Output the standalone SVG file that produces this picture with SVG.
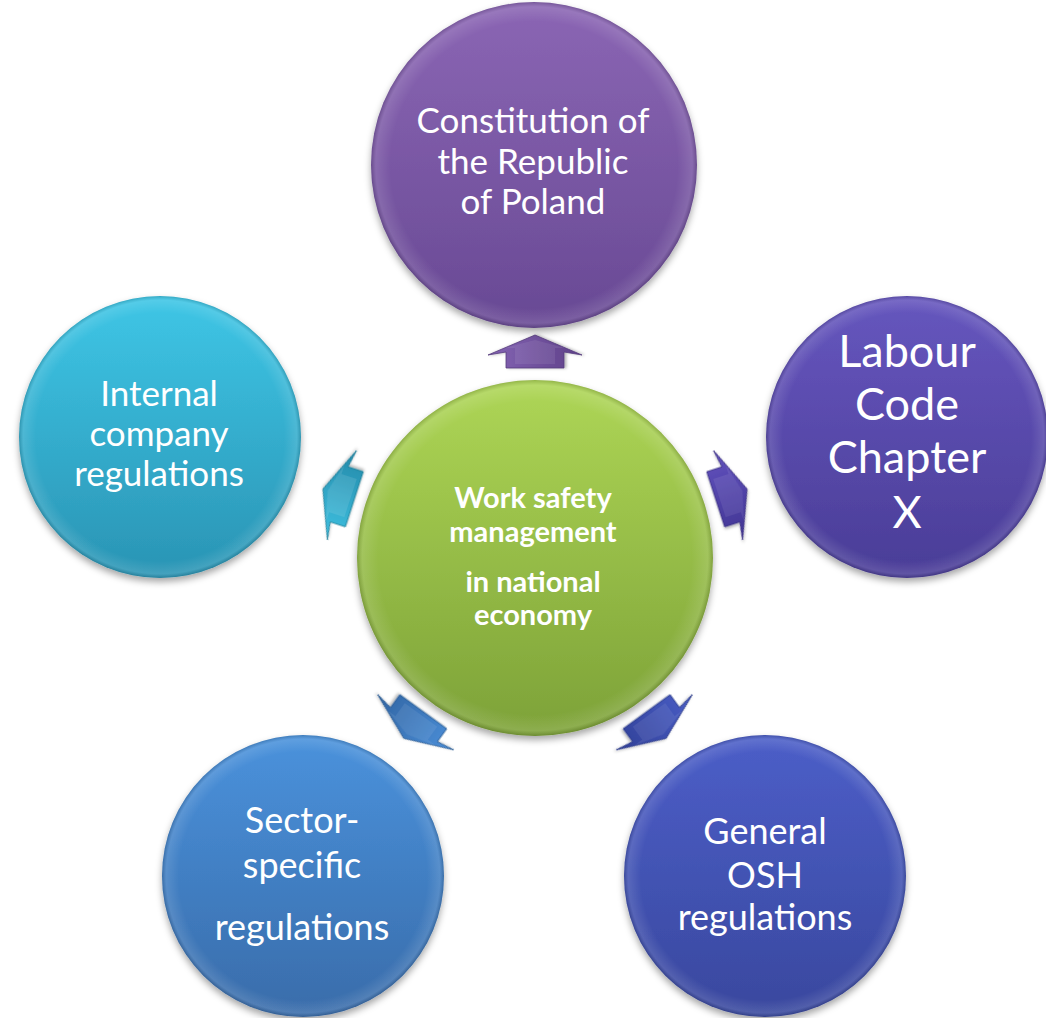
<svg xmlns="http://www.w3.org/2000/svg" width="1046" height="1018" viewBox="0 0 1046 1018">
<defs>
<style>
.lbl{font-family:Lato,"Liberation Sans",sans-serif;fill:#ffffff;text-anchor:middle}
.ctr{font-family:Lato,"Liberation Sans",sans-serif;fill:#ffffff;text-anchor:middle;font-weight:bold;font-size:29px}
.hl{fill:url(#gloss)}
.arr{stroke-width:0.8;stroke-linejoin:round}
</style>
<filter id="sh" x="-20%" y="-20%" width="140%" height="140%">
<feDropShadow dx="0" dy="4" stdDeviation="3.5" flood-color="#000" flood-opacity="0.35"/>
</filter>
<filter id="ash" x="-30%" y="-30%" width="160%" height="160%">
<feDropShadow dx="0" dy="2" stdDeviation="1.5" flood-color="#000" flood-opacity="0.3"/>
</filter>
<radialGradient id="gloss" cx="0.5" cy="0.5" r="0.5">
<stop offset="0.88" stop-color="#fff" stop-opacity="0"/>
<stop offset="0.97" stop-color="#fff" stop-opacity="0.12"/>
<stop offset="1" stop-color="#000" stop-opacity="0.15"/>
</radialGradient>
<linearGradient id="gTop" x1="0" y1="0" x2="0" y2="1"><stop offset="0" stop-color="#8B66B4"/><stop offset="1" stop-color="#684994"/></linearGradient>
<linearGradient id="gLab" x1="0" y1="0" x2="0" y2="1"><stop offset="0" stop-color="#6656BE"/><stop offset="1" stop-color="#4A3D97"/></linearGradient>
<linearGradient id="gGen" x1="0" y1="0" x2="0" y2="1"><stop offset="0" stop-color="#4C5EC8"/><stop offset="1" stop-color="#39489E"/></linearGradient>
<linearGradient id="gSec" x1="0" y1="0" x2="0" y2="1"><stop offset="0" stop-color="#4A92DC"/><stop offset="1" stop-color="#396CAA"/></linearGradient>
<linearGradient id="gInt" x1="0" y1="0" x2="0" y2="1"><stop offset="0" stop-color="#3EC6E6"/><stop offset="1" stop-color="#2A94B4"/></linearGradient>
<linearGradient id="gCen" x1="0" y1="0" x2="0" y2="1"><stop offset="0" stop-color="#AED656"/><stop offset="1" stop-color="#7DA238"/></linearGradient>
<linearGradient id="aTop" x1="0" y1="0" x2="0" y2="1"><stop offset="0" stop-color="#8464B4"/><stop offset="1" stop-color="#5E4088"/></linearGradient>
<linearGradient id="aLab" x1="0" y1="0" x2="0" y2="1"><stop offset="0" stop-color="#6252BE"/><stop offset="1" stop-color="#403492"/></linearGradient>
<linearGradient id="aGen" x1="0" y1="0" x2="0" y2="1"><stop offset="0" stop-color="#4A5EC6"/><stop offset="1" stop-color="#303F96"/></linearGradient>
<linearGradient id="aSec" x1="0" y1="0" x2="0" y2="1"><stop offset="0" stop-color="#4C90DA"/><stop offset="1" stop-color="#3064A2"/></linearGradient>
<linearGradient id="aInt" x1="0" y1="0" x2="0" y2="1"><stop offset="0" stop-color="#40C2E2"/><stop offset="1" stop-color="#2288A8"/></linearGradient>
<polygon id="arrow" points="190,-29 206,-29 203,-47 223,0 203,47 206,29 190,29"/>
<polygon id="facet" points="194,-20 210,-20 210,-30 218,0 210,30 210,20 194,20"/>
</defs>
<rect width="1046" height="1018" fill="#ffffff"/>

<g id="connectors">
<g transform="translate(535,558) rotate(-90)" filter="url(#ash)">
<use href="#arrow" fill="url(#aTop)" class="arr" stroke="#553c7c"/>
<use href="#facet" fill="#ffffff" fill-opacity="0.08"/>
</g>
<g transform="translate(535,558) rotate(-18)" filter="url(#ash)">
<use href="#arrow" fill="url(#aLab)" class="arr" stroke="#3a2f82"/>
<use href="#facet" fill="#ffffff" fill-opacity="0.08"/>
</g>
<g transform="translate(535,558) rotate(54)" filter="url(#ash)">
<use href="#arrow" fill="url(#aGen)" class="arr" stroke="#2b3a88"/>
<use href="#facet" fill="#ffffff" fill-opacity="0.08"/>
</g>
<g transform="translate(535,558) rotate(126)" filter="url(#ash)">
<use href="#arrow" fill="url(#aSec)" class="arr" stroke="#2b5a92"/>
<use href="#facet" fill="#ffffff" fill-opacity="0.08"/>
</g>
<g transform="translate(535,558) rotate(198)" filter="url(#ash)">
<use href="#arrow" fill="url(#aInt)" class="arr" stroke="#1f7e98"/>
<use href="#facet" fill="#ffffff" fill-opacity="0.1"/>
</g>
</g>

<g id="node-center">
<circle cx="535" cy="558" r="178" fill="url(#gCen)" filter="url(#sh)"/>
<circle cx="535" cy="558" r="178" class="hl"/>
<text class="ctr" x="533" y="508">Work safety</text>
<text class="ctr" x="533" y="542">management</text>
<text class="ctr" x="533" y="592">in national</text>
<text class="ctr" x="533" y="625">economy</text>
</g>

<g id="node-constitution">
<circle cx="534" cy="165" r="163" fill="url(#gTop)" filter="url(#sh)"/>
<circle cx="534" cy="165" r="163" class="hl"/>
<text class="lbl" font-size="35" x="533" y="133">Constitution of</text>
<text class="lbl" font-size="35" x="533" y="174">the Republic</text>
<text class="lbl" font-size="35" x="533" y="214">of Poland</text>
</g>

<g id="node-labour">
<circle cx="907" cy="437" r="141" fill="url(#gLab)" filter="url(#sh)"/>
<circle cx="907" cy="437" r="141" class="hl"/>
<text class="lbl" font-size="45" x="907" y="367">Labour</text>
<text class="lbl" font-size="45" x="907" y="420">Code</text>
<text class="lbl" font-size="45" x="907" y="473">Chapter</text>
<text class="lbl" font-size="45" x="907" y="528">X</text>
</g>

<g id="node-general">
<circle cx="765" cy="876" r="141" fill="url(#gGen)" filter="url(#sh)"/>
<circle cx="765" cy="876" r="141" class="hl"/>
<text class="lbl" font-size="36" x="765" y="844">General</text>
<text class="lbl" font-size="36" x="765" y="888">OSH</text>
<text class="lbl" font-size="36" x="765" y="930">regulations</text>
</g>

<g id="node-sector">
<circle cx="303" cy="876" r="141" fill="url(#gSec)" filter="url(#sh)"/>
<circle cx="303" cy="876" r="141" class="hl"/>
<text class="lbl" font-size="36" x="302" y="833">Sector-</text>
<text class="lbl" font-size="36" x="302" y="878">specific</text>
<text class="lbl" font-size="36" x="302" y="940">regulations</text>
</g>

<g id="node-internal">
<circle cx="160" cy="437" r="141" fill="url(#gInt)" filter="url(#sh)"/>
<circle cx="160" cy="437" r="141" class="hl"/>
<text class="lbl" font-size="35" x="159" y="406">Internal</text>
<text class="lbl" font-size="35" x="159" y="446">company</text>
<text class="lbl" font-size="35" x="159" y="486">regulations</text>
</g>
</svg>
